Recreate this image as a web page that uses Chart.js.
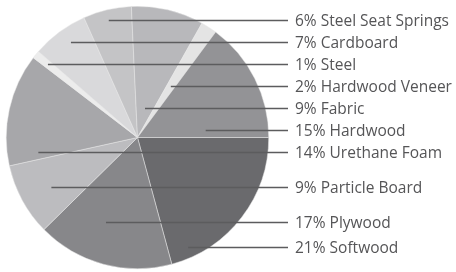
<!DOCTYPE html>
<html lang="en">
<head>
  <meta charset="UTF-8" />
  <title>Furniture Materials</title>
  <script src="https://cdn.jsdelivr.net/npm/chart.js"></script>
  <style>
    html, body { margin: 0; padding: 0; background: #fff; }
    #wrap { width: 456px; height: 272px; position: relative; }
  </style>
</head>
<body>
  <div id="wrap"><canvas id="materialsChart"></canvas></div>

  <script>
    // slices clockwise from 3 o'clock
    const materials = ['Softwood', 'Plywood', 'Particle Board', 'Urethane Foam', 'Steel',
                       'Cardboard', 'Steel Seat Springs', 'Fabric', 'Hardwood Veneer', 'Hardwood'];
    const shares = [21, 17, 9, 14, 1, 7, 6, 9, 2, 15];

    const sliceColors = ['#6a6a6d', '#87878a', '#bcbcbf', '#a7a7aa', '#ececec',
                         '#d9d9db', '#c4c4c6', '#b8b8bb', '#e4e4e4', '#939396'];
    // text baseline of each label (same order as slices)
    const labelBaseline = [253, 228, 193, 158, 70, 48, 26, 114, 92, 136];

    const leaderLabels = {
      id: 'leaderLabels',
      afterDraw(chart) {
        const ctx = chart.ctx;
        const arcs = chart.getDatasetMeta(0).data;
        ctx.save();
        arcs.forEach((arc, i) => {
          const p = arc.getProps(['x', 'y', 'startAngle', 'endAngle', 'outerRadius'], true);
          const lineY = labelBaseline[i] - 5.5;
          const dy = lineY - p.y;
          const half = Math.sqrt(Math.max(p.outerRadius * p.outerRadius - dy * dy, 0));
          let minX = null, maxX = null;
          for (let x = p.x - half; x <= p.x + half; x += 0.5) {
            let a = Math.atan2(dy, x - p.x);
            while (a < p.startAngle) a += Math.PI * 2;
            if (a <= p.endAngle) {
              if (minX === null) minX = x;
              maxX = x;
            }
          }
          if (minX === null) return;
          const startX = (minX + maxX) / 2;
          ctx.strokeStyle = '#5c5c5e';
          ctx.lineWidth = 1.3;
          ctx.beginPath();
          ctx.moveTo(startX, lineY);
          ctx.lineTo(288, lineY);
          ctx.stroke();

          ctx.fillStyle = '#555557';
          ctx.font = '15.5px "Open Sans"';
          ctx.textBaseline = 'alphabetic';
          ctx.fillText(shares[i] + '% ' + materials[i], 295, labelBaseline[i]);
        });
        ctx.restore();
      }
    };

    new Chart(document.getElementById('materialsChart'), {
      type: 'pie',
      data: {
        labels: materials,
        datasets: [{
          data: shares,
          backgroundColor: sliceColors,
          borderColor: '#e6e6e6',
          borderWidth: 0.5
        }]
      },
      options: {
        responsive: true,
        maintainAspectRatio: false,
        animation: false,
        rotation: 90,
        layout: { padding: { left: 6, top: 6, right: 187, bottom: 3 } },
        plugins: {
          legend: { display: false },
          tooltip: { enabled: false }
        }
      },
      plugins: [leaderLabels]
    });
  </script>
</body>
</html>
